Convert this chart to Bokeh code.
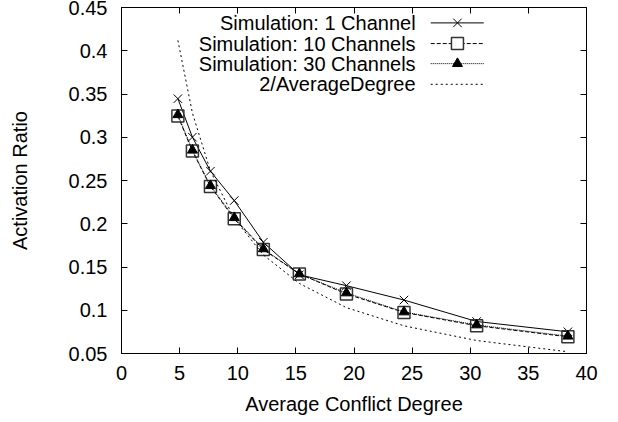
from bokeh.plotting import figure
from bokeh.models import LinearAxis, FixedTicker, CustomJSTickFormatter, Range1d
from bokeh.core.properties import value
from bokeh.embed import file_html
from bokeh.resources import INLINE

# ---- data ----
degree = [4.85, 6.1, 7.65, 9.7, 12.2, 15.3, 19.35, 24.3, 30.55, 38.4]
sim_1ch = [0.3446, 0.3001, 0.2608, 0.2268, 0.1786, 0.1410, 0.1284, 0.1118, 0.0870, 0.0751]
sim_10ch = [0.3245, 0.2840, 0.2431, 0.2057, 0.1701, 0.1420, 0.1188, 0.0975, 0.0821, 0.0693]
sim_30ch = [0.3260, 0.2850, 0.2440, 0.2070, 0.1710, 0.1420, 0.1200, 0.0980, 0.0830, 0.0700]
inv_deg = [0.412, 0.328, 0.261, 0.206, 0.164, 0.131, 0.103, 0.082, 0.065, 0.052]
x_ticks = [0, 5, 10, 15, 20, 25, 30, 35, 40]
y_ticks = [0.05, 0.1, 0.15, 0.2, 0.25, 0.3, 0.35, 0.4, 0.45]
labels = ["Simulation: 1 Channel", "Simulation: 10 Channels",
          "Simulation: 30 Channels", "2/AverageDegree"]

FONT = "Liberation Sans"
FS = "20px"

p = figure(width=618, height=422,
           min_border_left=121, min_border_right=32,
           min_border_top=7, min_border_bottom=69,
           x_range=Range1d(0, 40), y_range=Range1d(0.05, 0.45),
           output_backend="svg", toolbar_location=None)
p.grid.visible = False
p.outline_line_color = "black"
p.outline_line_width = 1
p.background_fill_color = "white"
p.border_fill_color = "white"

fmt = CustomJSTickFormatter(code="return String(parseFloat(tick.toFixed(2)));")

for ax in (p.xaxis[0], p.yaxis[0]):
    ax.axis_line_color = "black"
    ax.major_tick_in = 6
    ax.major_tick_out = 0
    ax.minor_tick_in = 0
    ax.minor_tick_out = 0
    ax.major_label_text_font = FONT
    ax.major_label_text_font_size = FS
    ax.major_label_text_color = "black"
    ax.axis_label_text_font = FONT
    ax.axis_label_text_font_size = FS
    ax.axis_label_text_font_style = "normal"
    ax.axis_label_text_color = "black"

p.xaxis[0].ticker = FixedTicker(ticks=x_ticks)
p.yaxis[0].ticker = FixedTicker(ticks=y_ticks)
p.yaxis[0].formatter = fmt
p.xaxis[0].axis_label = "Average Conflict Degree"
p.yaxis[0].axis_label = "Activation Ratio"
p.xaxis[0].major_label_standoff = 12
p.xaxis[0].axis_label_standoff = 10
p.yaxis[0].major_label_standoff = 14
p.yaxis[0].axis_label_standoff = 35

# mirrored ticks on top and right
for loc, ticks in (("above", x_ticks), ("right", y_ticks)):
    ax = LinearAxis(ticker=FixedTicker(ticks=ticks))
    ax.axis_line_color = None
    ax.major_tick_in = 6
    ax.major_tick_out = 0
    ax.minor_tick_in = 0
    ax.minor_tick_out = 0
    ax.major_label_text_font_size = "0px"
    ax.major_label_standoff = 0
    ax.major_label_text_alpha = 0
    p.add_layout(ax, loc)

# ---- series ----
p.line(degree, sim_1ch, line_color="black", line_width=1)
p.scatter(degree, sim_1ch, marker="x", size=12, line_color="black", line_width=1)

p.line(degree, sim_10ch, line_color="black", line_width=1, line_dash="4 2")
p.scatter(degree, sim_10ch, marker="square", size=12, fill_color=None,
          line_color="#333333", line_width=1.5)

p.line(degree, sim_30ch, line_color="black", line_width=1, line_dash="1 1")
p.scatter(degree, sim_30ch, marker="triangle", size=10, fill_color="black",
          line_color="black", line_width=1)

p.line(degree, inv_deg, line_color="black", line_width=1, line_dash="2 3")

# ---- legend (gnuplot style: text left, sample right) ----
leg_text_x = 25.3
leg_x0, leg_x1, leg_xm = 26.6, 31.16, 28.9
leg_y = [0.4322, 0.4083, 0.3851, 0.3612]
p.text(x=[leg_text_x] * 4, y=leg_y, text=labels, text_align="right",
       text_baseline="middle", text_font=value(FONT), text_font_size=FS,
       text_color="black")
dashes = ["solid", "4 2", "1 1", "2 3"]
for yy, d in zip(leg_y, dashes):
    p.line([leg_x0, leg_x1], [yy, yy], line_color="black", line_width=1, line_dash=d)
p.scatter([leg_xm], [leg_y[0]], marker="x", size=12, line_color="black", line_width=1)
p.scatter([leg_xm], [leg_y[1]], marker="square", size=12, fill_color="white",
          line_color="#333333", line_width=1.5)
p.scatter([leg_xm], [leg_y[2]], marker="triangle", size=10, fill_color="black",
          line_color="black")

open("out.html", "w").write(file_html(p, INLINE))
